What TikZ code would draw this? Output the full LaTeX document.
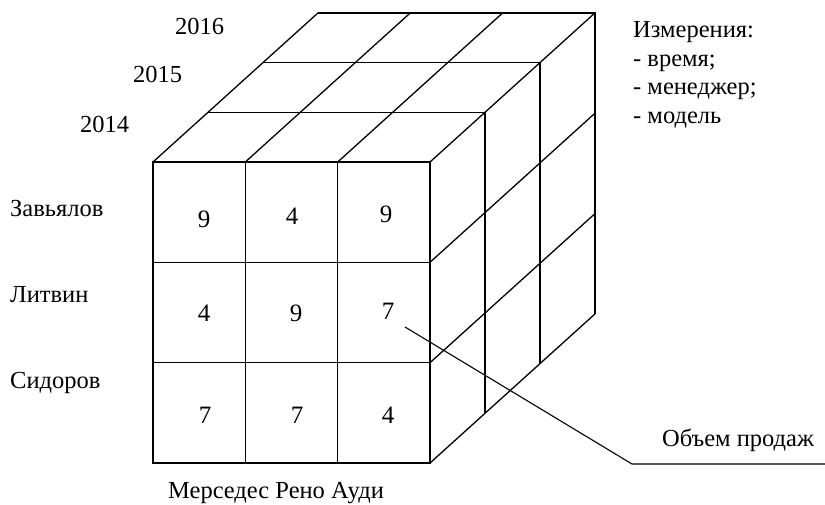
\documentclass[tikz,border=0pt]{standalone}
\usepackage{fontspec}
\setmainfont{Liberation Serif}
\begin{document}
\begin{tikzpicture}[x=1bp,y=-1bp,
  cube/.style={line width=1.3bp,black},
  lbl/.style={inner sep=0pt,font=\fontsize{24.5bp}{28.5bp}\selectfont},
  num/.style={inner sep=0pt,anchor=base,font=\fontsize{25bp}{28bp}\selectfont}]
\useasboundingbox (0,0) rectangle (825,505);
% front face
\def\dx{55}\def\dy{-49.7}
\draw[cube] (153,162) rectangle (430,463);
\foreach \xx in {245.3,337.7} \draw[cube] (\xx,162) -- (\xx,463);
\foreach \yy in {262.3,362.7} \draw[cube] (153,\yy) -- (430,\yy);
% layers behind
\foreach \k in {1,2,3}{
  \draw[cube] (153+\k*\dx,162+\k*\dy) -- (430+\k*\dx,162+\k*\dy) -- (430+\k*\dx,463+\k*\dy);
}
% top diagonals
\foreach \xx in {153,245.3,337.7,430} \draw[cube] (\xx,162) -- ++(3*\dx,3*\dy);
% right diagonals
\foreach \yy in {262.3,362.7,463} \draw[cube] (430,\yy) -- ++(3*\dx,3*\dy);
% numbers
\node[num] (c11) at (204,228) {9};
\node[num] (c12) at (292,225) {4};
\node[num] (c13) at (386,223) {9};
\node[num] (c21) at (204,322) {4};
\node[num] (c22) at (296,322) {9};
\node[num] (c23) at (388,320) {7};
\node[num] (c31) at (205,423) {7};
\node[num] (c32) at (297,423) {7};
\node[num] (c33) at (388,423) {4};
% years
\node[lbl,anchor=base west] (y16) at (175,35) {2016};
\node[lbl,anchor=base west] (y15) at (133,83) {2015};
\node[lbl,anchor=base west] (y14) at (80,133) {2014};
% managers
\node[lbl,anchor=base west] (m1) at (10,217) {Завьялов};
\node[lbl,anchor=base west] (m2) at (10,303) {Литвин};
\node[lbl,anchor=base west] (m3) at (10,388) {Сидоров};
% models
\node[lbl,anchor=base] (mod) at (276,498) {Мерседес Рено Ауди};
% dimensions
\node[lbl,anchor=base west] (d0) at (633,38) {Измерения:};
\node[lbl,anchor=base west] (d1) at (633,66.5) {- время;};
\node[lbl,anchor=base west] (d2) at (633,95) {- менеджер;};
\node[lbl,anchor=base west] (d3) at (633,123.5) {- модель};
% pointer
\coordinate (p0) at (405,327);
\coordinate (p1) at (632,464);
\coordinate (p2) at (825,464);
\draw[line width=1.1bp] (p0) -- (p1) -- (p2);
\node[lbl,anchor=base] (vol) at (738,446) {Объем продаж};
\end{tikzpicture}
\end{document}
